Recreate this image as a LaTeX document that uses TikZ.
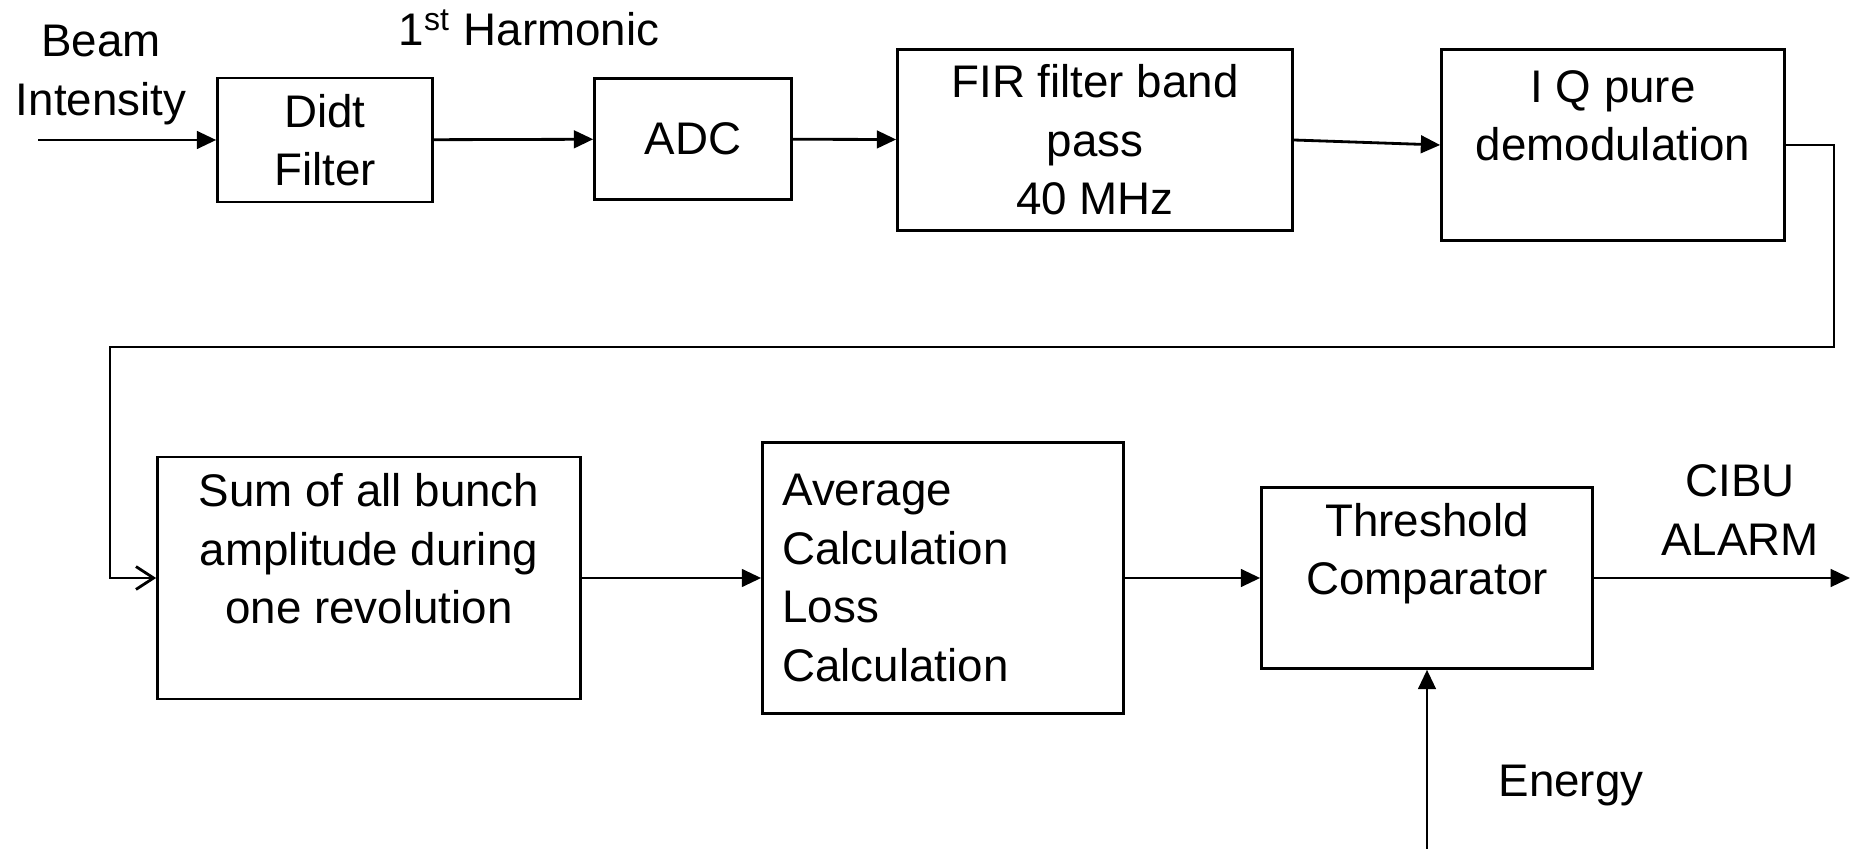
\documentclass[tikz,border=0pt]{standalone}
\usepackage{fontspec}
\setmainfont{Liberation Sans}
\usepackage{tikz}
\usetikzlibrary{positioning,calc,arrows.meta}

\tikzset{
  block/.style={draw, line width=0.7pt, align=center, inner sep=2pt},
  sig/.style={line width=0.8pt, -{Triangle[length=5.5pt,width=5pt]}},
  fb/.style={line width=0.8pt, -{Straight Barb[length=5pt,width=6.5pt]}},
  lbl/.style={align=center, inner sep=0pt}
}

\begin{document}
\begin{tikzpicture}[x=0.01cm, y=-0.01cm, font=\fontsize{13}{16.6}\selectfont]
    \useasboundingbox (0,0) rectangle (1860,849);

    % Top row
    \node [lbl] (beam) at (101,75) {Beam\\Intensity};
    \node [lbl] (harm) at (529,28) {1\textsuperscript{st} Harmonic};
    \node [block, minimum width=2.15cm, minimum height=1.24cm] (didt) at (325,140) {Didt\\Filter};
    \node [block, minimum width=1.97cm, minimum height=1.21cm] (adc) at (693,139) {ADC};
    \node [block, minimum width=3.95cm, minimum height=1.81cm] (fir) at (1095,140) {FIR filter band\\pass\\40 MHz};
    \node [block, minimum width=3.43cm, minimum height=1.91cm] (iq) at (1613,145) {I Q pure\\demodulation\\\mbox{}};

    % Bottom row
    \node [block, minimum width=4.23cm, minimum height=2.42cm] (sum) at (369,578) {Sum of all bunch\\amplitude during\\one revolution\\\mbox{}};
    \node [block, align=left, text width=3.21cm, inner xsep=0.2cm, minimum height=2.71cm] (avg) at (943,578) {Average\\Calculation\\Loss\\Calculation};
    \node [block, minimum width=3.31cm, minimum height=1.81cm] (thr) at (1427,578) {Threshold\\Comparator\\\mbox{}};
    \node [lbl] (alarm) at (1740,510) {CIBU\\ALARM};
    \node [lbl] (energy) at (1571,786) {Energy};

    % Free ends
    \coordinate (in) at (38,140);
    \coordinate (out) at (1850,578);
    \coordinate (en) at (1427,849);
    \coordinate (turnR) at (1834,347);
    \coordinate (turnL) at (110,347);

    % Signal path
    \draw [sig] (in) -- (didt.west);
    \draw [sig] (didt) -- (adc);
    \draw [sig] (adc) -- (fir);
    \draw [sig] (fir.east) -- (iq.west);
    \draw [fb] (iq.east) -| (turnR) -- (turnL) |- (sum.west);
    \draw [sig] (sum) -- (avg);
    \draw [sig] (avg) -- (thr);
    \draw [sig] (thr.east) -- (out);
    \draw [sig] (en) -- (thr.south);
\end{tikzpicture}
\end{document}
